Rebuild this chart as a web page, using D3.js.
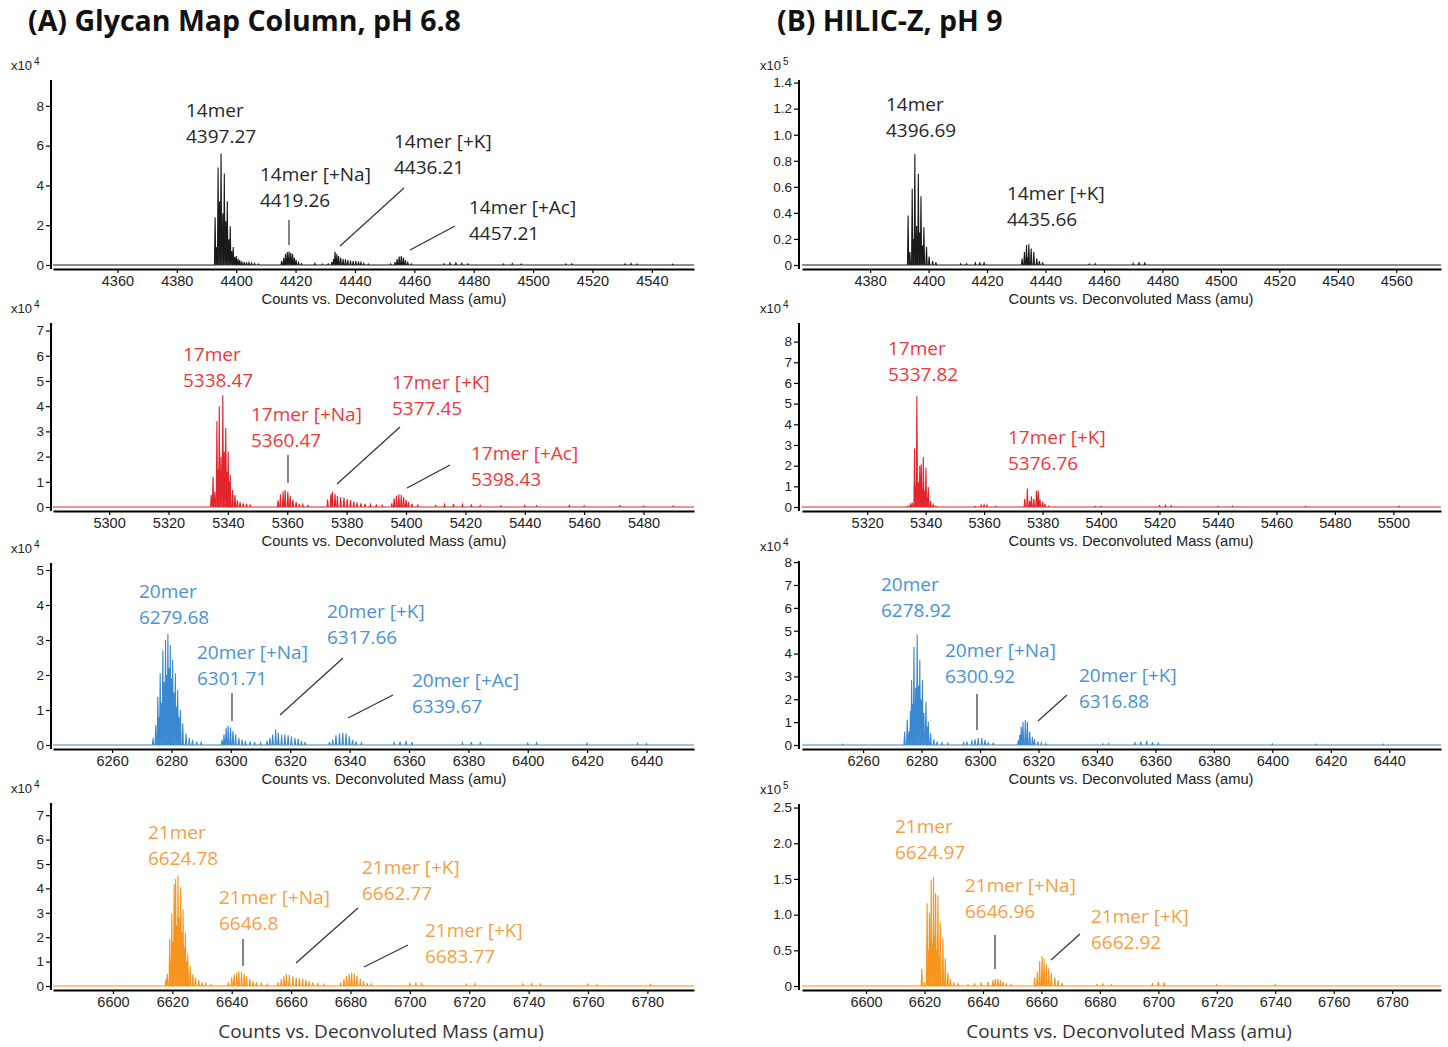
<!DOCTYPE html>
<html>
<head>
<meta charset="utf-8">
<script src="https://cdn.jsdelivr.net/npm/d3@7"></script>
<style>
  body { margin: 0; background: #fff; }
  svg { display: block; }
</style>
</head>
<body>
<svg id="chart" width="1448" height="1047"></svg>
<script>
// ---- data: sticks are [deconvoluted mass, counts in the panel's x10^n unit]
const a1Sticks = [[4392.9,2.4],[4393.4,0.9],[4393.9,4.9],[4394.4,3.2],[4394.9,5.6],[4395.5,2.6],[4396.0,4.6],[4396.5,2.2],[4397.0,3.2],[4397.5,1.3],[4398.0,1.95],[4398.5,0.7],[4399.0,0.9],[4399.5,0.4],[4400.0,0.45],[4400.6,0.32],[4401.2,0.25],[4401.9,0.18],[4402.7,0.15],[4403.5,0.13],[4404.3,0.12],[4405.2,0.1],[4406.2,0.08],[4407.5,0.05],
  [4415.3,0.2],[4416.0,0.35],[4416.6,0.55],[4417.2,0.65],[4417.8,0.68],[4418.4,0.6],[4419.0,0.55],[4419.6,0.36],[4420.2,0.25],[4421.0,0.12],[4422.0,0.07],
  [4426.5,0.08],[4429.0,0.05],[4431.0,0.06],
  [4432.2,0.15],[4432.8,0.3],[4433.3,0.67],[4433.9,0.55],[4434.5,0.45],[4435.2,0.36],[4436.0,0.3],[4436.8,0.28],[4437.6,0.25],[4438.5,0.22],[4439.4,0.2],[4440.3,0.2],[4441.2,0.17],[4442.0,0.12],[4443.0,0.08],[4444.5,0.05],
  [4452.0,0.06],[4453.5,0.15],[4454.2,0.3],[4454.9,0.42],[4455.6,0.45],[4456.3,0.38],[4457.0,0.25],[4457.8,0.12],[4459.0,0.06],
  [4470,0.06],[4472,0.1],[4474,0.1],[4476,0.08],[4478,0.06],[4490,0.05],[4493,0.07],[4496,0.05],[4511,0.05],[4513,0.06],[4531,0.06],[4533,0.07],[4535,0.05],[4547,0.04]];

const a2Sticks = [[5334.4,0.47],[5335.0,1.2],[5335.6,0.6],[5336.3,3.4],[5336.7,1.5],[5337.1,4.0],[5337.7,2.0],[5338.3,4.43],[5338.8,2.2],[5339.3,3.13],[5339.7,1.4],[5340.1,2.2],[5340.5,1.0],[5340.8,1.27],[5341.6,0.67],[5342.4,0.47],[5343.2,0.27],[5344.1,0.2],[5345.2,0.15],[5346.3,0.12],[5347.5,0.08],
  [5356.9,0.27],[5357.7,0.5],[5358.6,0.62],[5359.3,0.67],[5360.2,0.6],[5361.0,0.45],[5361.9,0.3],[5363.0,0.2],[5364.1,0.12],[5365.2,0.1],[5367,0.06],
  [5373.6,0.3],[5374.7,0.5],[5375.2,0.6],[5376.1,0.52],[5376.9,0.45],[5378.0,0.4],[5379.1,0.38],[5380.2,0.32],[5381.3,0.28],[5382.4,0.22],[5383.5,0.18],[5384.8,0.15],[5386.2,0.12],[5388,0.1],[5390,0.08],[5392,0.07],
  [5395.2,0.15],[5396.0,0.35],[5396.8,0.45],[5397.6,0.5],[5398.4,0.48],[5399.2,0.4],[5400.0,0.3],[5400.8,0.2],[5402,0.12],[5404,0.08],
  [5410,0.06],[5413,0.1],[5416,0.12],[5419,0.1],[5422,0.08],[5425,0.06],[5432,0.05],[5440,0.06],[5444,0.05],[5455,0.06],[5460,0.05],[5472,0.05],[5480,0.04],[5490,0.04]];

const a3Sticks = [[6273.8,0.19],[6274.7,0.57],[6275.4,1.38],[6275.8,0.8],[6276.2,2.05],[6276.6,1.2],[6277.1,2.71],[6277.5,1.8],[6278.0,3.0],[6278.4,2.0],[6278.8,3.17],[6279.2,2.2],[6279.6,2.86],[6280.0,1.9],[6280.4,2.43],[6280.8,1.5],[6281.3,2.05],[6281.7,1.1],[6282.1,1.57],[6282.5,0.8],[6283.0,1.0],[6283.8,0.62],[6284.9,0.33],[6286.0,0.2],[6287.1,0.15],[6288.5,0.1],[6290,0.07],
  [6297.0,0.15],[6297.7,0.3],[6298.4,0.5],[6299.1,0.55],[6299.9,0.5],[6300.7,0.4],[6301.6,0.3],[6302.7,0.2],[6303.8,0.15],[6304.9,0.12],[6306.5,0.1],[6308,0.08],[6310,0.06],
  [6312.2,0.12],[6313.2,0.2],[6314.1,0.3],[6315.1,0.45],[6316.0,0.35],[6317.1,0.3],[6318.2,0.3],[6319.3,0.28],[6320.4,0.25],[6321.6,0.2],[6322.7,0.18],[6323.8,0.12],[6325,0.08],
  [6333.2,0.08],[6334.3,0.15],[6335.4,0.28],[6336.6,0.33],[6337.7,0.35],[6338.8,0.33],[6339.9,0.25],[6341.0,0.15],[6342.2,0.1],[6344,0.06],
  [6355,0.07],[6357,0.1],[6359,0.12],[6361,0.08],[6378,0.06],[6381,0.08],[6384,0.06],[6400,0.05],[6403,0.06],[6420,0.05],[6437,0.05],[6440,0.04]];

const a4Sticks = [[6617.8,0.27],[6618.3,0.5],[6619.1,1.92],[6619.5,1.0],[6619.8,2.95],[6620.2,1.8],[6620.6,4.18],[6621.1,4.38],[6621.5,2.5],[6621.9,4.52],[6622.3,2.8],[6622.8,4.04],[6623.2,2.2],[6623.6,3.15],[6624.0,1.6],[6624.4,2.19],[6624.8,1.0],[6625.2,1.3],[6626.0,0.82],[6626.9,0.48],[6627.8,0.35],[6628.9,0.25],[6630,0.15],[6631.2,0.1],[6633,0.06],
  [6638.9,0.15],[6640.0,0.35],[6640.8,0.48],[6641.7,0.55],[6642.4,0.6],[6643.3,0.57],[6644.2,0.5],[6645.0,0.4],[6646.1,0.28],[6647.2,0.2],[6648.3,0.15],[6650,0.1],[6652,0.07],
  [6655.6,0.15],[6656.7,0.3],[6657.6,0.4],[6658.4,0.5],[6659.4,0.45],[6660.6,0.4],[6661.7,0.35],[6662.8,0.33],[6663.9,0.3],[6665.0,0.25],[6666.1,0.2],[6667.3,0.15],[6669,0.1],[6671,0.07],
  [6676.7,0.15],[6677.8,0.3],[6678.7,0.42],[6679.6,0.5],[6680.4,0.55],[6681.3,0.5],[6682.2,0.42],[6683.3,0.3],[6684.4,0.2],[6685.6,0.12],[6687,0.08],
  [6700,0.1],[6702,0.15],[6704,0.1],[6719,0.07],[6722,0.1],[6738,0.08],[6741,0.12],[6744,0.07],[6760,0.08],[6763,0.06],[6781,0.06]];

const b1Sticks = [[4393.0,0.38],[4393.6,0.1],[4394.4,0.585],[4394.8,0.2],[4395.3,0.85],[4395.9,0.3],[4396.5,0.70],[4396.9,0.25],[4397.4,0.527],[4397.9,0.15],[4398.4,0.29],[4399.3,0.14],[4400.2,0.064],[4401.4,0.03],[4402.5,0.02],
  [4411,0.01],[4413,0.01],[4416,0.015],[4417.5,0.02],[4419,0.015],
  [4432.0,0.05],[4432.8,0.1],[4433.5,0.153],[4433.9,0.06],[4434.3,0.16],[4435.1,0.127],[4436.0,0.1],[4437.0,0.05],[4437.9,0.03],[4439,0.02],
  [4455,0.008],[4457,0.01],[4470,0.012],[4472,0.02],[4474,0.015]];

const b2Sticks = [[5334.0,0.05],[5334.8,0.12],[5335.4,0.2],[5336.2,2.83],[5336.6,1.0],[5337.0,5.36],[5337.5,1.2],[5338.0,2.0],[5338.5,2.07],[5338.9,0.9],[5339.2,2.42],[5339.6,0.8],[5340.1,1.9],[5340.5,0.5],[5340.9,0.97],[5341.7,0.3],[5342.6,0.12],[5343.5,0.05],
  [5357,0.03],[5359,0.08],[5360,0.1],[5361,0.08],[5364,0.04],
  [5373.9,0.4],[5374.8,0.89],[5375.6,0.3],[5376.2,0.52],[5377.0,0.4],[5377.9,0.78],[5378.5,0.8],[5379.1,0.4],[5380.0,0.25],[5380.8,0.15],[5382,0.05],
  [5398,0.03],[5400,0.04],[5420,0.06],[5422,0.08],[5424,0.06],[5440,0.03],[5445,0.04],[5470,0.03],[5502,0.04]];

const b3Sticks = [[6253,0.04],[6274.2,0.58],[6275.1,1.12],[6275.7,0.6],[6276.2,1.5],[6276.6,2.84],[6277.0,1.8],[6277.4,4.29],[6278.0,2.5],[6278.5,4.84],[6279.0,2.6],[6279.4,3.71],[6279.9,2.0],[6280.3,2.84],[6280.8,1.4],[6281.5,1.89],[6281.9,0.8],[6282.3,1.02],[6283.1,0.51],[6284.2,0.25],[6285.3,0.15],[6287,0.1],[6289,0.08],
  [6294.4,0.1],[6295.5,0.15],[6297.2,0.2],[6298.3,0.25],[6299.4,0.3],[6300.6,0.3],[6301.7,0.22],[6302.8,0.12],[6304.5,0.08],
  [6313.1,0.2],[6313.6,0.44],[6314.1,0.8],[6314.7,1.02],[6315.5,1.09],[6316.2,1.02],[6317.0,0.58],[6317.9,0.36],[6318.6,0.25],[6319.8,0.15],[6321,0.1],[6322.5,0.06],
  [6342,0.05],[6344,0.06],[6353,0.1],[6355,0.15],[6357,0.18],[6359,0.12],[6361,0.08],[6400,0.05],[6415,0.04],[6438,0.04]];

const b4Sticks = [[6619.1,0.245],[6620.0,0.05],[6620.9,1.16],[6621.3,0.5],[6621.7,1.02],[6622.3,1.49],[6622.7,0.6],[6623.1,1.53],[6623.5,0.7],[6623.8,1.3],[6624.2,0.5],[6624.6,1.27],[6625.0,0.4],[6625.4,0.89],[6626.3,0.67],[6627.1,0.39],[6628.0,0.185],[6628.9,0.1],[6630,0.05],[6631.5,0.03],
  [6634.9,0.02],[6637.1,0.04],[6639.4,0.05],[6641.7,0.06],[6643.4,0.08],[6644.2,0.1],[6645.1,0.1],[6646.0,0.08],[6646.9,0.06],[6648.0,0.04],[6649.5,0.02],
  [6657.7,0.12],[6658.6,0.2],[6659.4,0.35],[6660.2,0.42],[6660.9,0.39],[6661.7,0.3],[6662.5,0.25],[6663.4,0.18],[6664.6,0.12],[6665.7,0.08],[6667,0.04],
  [6679,0.02],[6681,0.03],[6684,0.02],[6698,0.04],[6700,0.06],[6702,0.05],[6720,0.02],[6740,0.02]];

// axis ticks
const a1XTicks = [4360,4380,4400,4420,4440,4460,4480,4500,4520,4540];
const a2XTicks = [5300,5320,5340,5360,5380,5400,5420,5440,5460,5480];
const a3XTicks = [6260,6280,6300,6320,6340,6360,6380,6400,6420,6440];
const a4XTicks = [6600,6620,6640,6660,6680,6700,6720,6740,6760,6780];
const b1XTicks = [4380,4400,4420,4440,4460,4480,4500,4520,4540,4560];
const b2XTicks = [5320,5340,5360,5380,5400,5420,5440,5460,5480,5500];
const b3XTicks = [6260,6280,6300,6320,6340,6360,6380,6400,6420,6440];
const b4XTicks = [6600,6620,6640,6660,6680,6700,6720,6740,6760,6780];
const a1YTicks = [0,2,4,6,8];
const a2YTicks = [0,1,2,3,4,5,6,7];
const a3YTicks = [0,1,2,3,4,5];
const a4YTicks = [0,1,2,3,4,5,6,7];
const b1YTicks = [0,0.2,0.4,0.6,0.8,1.0,1.2,1.4];
const b2YTicks = [0,1,2,3,4,5,6,7,8];
const b3YTicks = [0,1,2,3,4,5,6,7,8];
const b4YTicks = [0,0.5,1.0,1.5,2.0,2.5];

// axis domains
const xDomains = [[4338.3,4554.2],[5281.1,5497.0],[6240.1,6456.0],[6579.8,6795.7],
                  [4356.7,4575.3],[5297.7,5516.3],[6239.1,6457.7],[6578.1,6796.7]];
const yMaxes = [9.3, 7.3, 5.2, 7.5, 1.42, 8.9, 8.05, 2.55];
const exponents = [4, 4, 4, 4, 5, 4, 4, 5];

// annotation texts
const a1Labels = [['14mer','4397.27'],['14mer [+Na]','4419.26'],['14mer [+K]','4436.21'],['14mer [+Ac]','4457.21']];
const a2Labels = [['17mer','5338.47'],['17mer [+Na]','5360.47'],['17mer [+K]','5377.45'],['17mer [+Ac]','5398.43']];
const a3Labels = [['20mer','6279.68'],['20mer [+Na]','6301.71'],['20mer [+K]','6317.66'],['20mer [+Ac]','6339.67']];
const a4Labels = [['21mer','6624.78'],['21mer [+Na]','6646.8'],['21mer [+K]','6662.77'],['21mer [+K]','6683.77']];
const b1Labels = [['14mer','4396.69'],['14mer [+K]','4435.66']];
const b2Labels = [['17mer','5337.82'],['17mer [+K]','5376.76']];
const b3Labels = [['20mer','6278.92'],['20mer [+Na]','6300.92'],['20mer [+K]','6316.88']];
const b4Labels = [['21mer','6624.97'],['21mer [+Na]','6646.96'],['21mer [+K]','6662.92']];

const titles = ['(A) Glycan Map Column, pH 6.8', '(B) HILIC-Z, pH 9'];
const axisTitle = 'Counts vs. Deconvoluted Mass (amu)';

// ---- layout / style
const cols = [{ axisX: 51, left: 53, right: 694, titleX: 28, expX: 11, axisTitleX: 384, bigTitleX: 381 },
              { axisX: 799, left: 802, right: 1441, titleX: 777, expX: 760, axisTitleX: 1131, bigTitleX: 1129 }];
const rows = [{ zero: 265, topA: 80, topB: 80 },
              { zero: 507, topA: 323, topB: 323 },
              { zero: 745, topA: 563, topB: 561 },
              { zero: 986, topA: 803, topB: 804 }];
const themes = [
  { stroke: '#1a1a1a', fill: '#8c8c8c', text: '#262626' },
  { stroke: '#e3242b', fill: '#f08c90', text: '#f0383c' },
  { stroke: '#3a88d0', fill: '#9fc7ec', text: '#4a92d6' },
  { stroke: '#f7941d', fill: '#fbc580', text: '#f6a043' }
];
// label anchors (x, first baseline) and leader lines, in page pixels
const labelPos = [
  [[186,117],[260,181],[394,148],[469,214]],
  [[183,361],[251,421],[392,389],[471,460]],
  [[139,598],[197,659],[327,618],[412,687]],
  [[148,839],[219,904],[362,874],[425,937]],
  [[886,111],[1007,200]],
  [[888,355],[1008,444]],
  [[881,591],[945,657],[1079,682]],
  [[895,833],[965,892],[1091,923]]
];
const leaders = [
  [[289,220,289,245],[404,188,340,246],[455,226,410,250]],
  [[288,455,288,483],[400,427,337,484],[450,465,407,488]],
  [[232,693,232,721],[343,658,280,715],[393,695,348,718]],
  [[243,939,243,966],[358,908,296,963],[408,945,364,967]],
  [], [],
  [[977,694,977,730],[1067,695,1038,721]],
  [[995,935,995,969],[1080,934,1051,960]]
];

const panels = [
  { sticks: a1Sticks, xTicks: a1XTicks, yTicks: a1YTicks, labels: a1Labels },
  { sticks: a2Sticks, xTicks: a2XTicks, yTicks: a2YTicks, labels: a2Labels },
  { sticks: a3Sticks, xTicks: a3XTicks, yTicks: a3YTicks, labels: a3Labels },
  { sticks: a4Sticks, xTicks: a4XTicks, yTicks: a4YTicks, labels: a4Labels },
  { sticks: b1Sticks, xTicks: b1XTicks, yTicks: b1YTicks, labels: b1Labels },
  { sticks: b2Sticks, xTicks: b2XTicks, yTicks: b2YTicks, labels: b2Labels },
  { sticks: b3Sticks, xTicks: b3XTicks, yTicks: b3YTicks, labels: b3Labels },
  { sticks: b4Sticks, xTicks: b4XTicks, yTicks: b4YTicks, labels: b4Labels }
];

const svg = d3.select('#chart');
const tickFont = 'Liberation Sans, Arial, sans-serif';
const labelFont = 'Open Sans, Noto Sans, sans-serif';

// column titles
titles.forEach(function(t, i) {
  svg.append('text')
     .attr('x', cols[i].titleX).attr('y', 31)
     .attr('font-family', labelFont).attr('font-weight', 700).attr('font-size', 28.5)
     .attr('fill', '#111').text(t);
});

panels.forEach(function(p, idx) {
  var col = cols[Math.floor(idx / 4)];
  var row = rows[idx % 4];
  var theme = themes[idx % 4];
  var top = idx < 4 ? row.topA : row.topB;
  var axisY = row.zero + 4;

  var x = d3.scaleLinear().domain(xDomains[idx]).range([col.left, col.right]);
  var y = d3.scaleLinear().domain([0, yMaxes[idx]]).range([row.zero, top]);

  var g = svg.append('g');

  // spectrum: each stick drawn as a narrow peak rising from the baseline
  var pts = [[xDomains[idx][0], 0]];
  p.sticks.slice().sort((a, b) => a[0] - b[0]).forEach(function(s) {
    pts.push([s[0] - 0.22, 0], [s[0], s[1]], [s[0] + 0.22, 0]);
  });
  pts.push([xDomains[idx][1], 0]);

  g.append('path')
   .attr('d', d3.area().x(d => x(d[0])).y0(y(0)).y1(d => y(d[1]))(pts))
   .attr('fill', theme.fill).attr('stroke', 'none');
  g.append('path')
   .attr('d', d3.line().x(d => x(d[0])).y(d => y(d[1]))(pts))
   .attr('fill', 'none').attr('stroke', theme.stroke).attr('stroke-width', 1.1)
   .attr('stroke-linejoin', 'miter');

  // x axis
  var xAxis = g.append('g').attr('transform', 'translate(0,' + axisY + ')')
               .call(d3.axisBottom(x).tickValues(p.xTicks).tickFormat(d3.format('d'))
                       .tickSize(4).tickPadding(3).tickSizeOuter(0));
  xAxis.select('.domain').attr('stroke', '#000').attr('stroke-width', 2);
  xAxis.selectAll('.tick line').attr('stroke', '#000').attr('stroke-width', 1.2);
  xAxis.selectAll('.tick text').attr('font-family', tickFont).attr('font-size', 14.5).attr('fill', '#222');

  // y axis
  var fmt = (yMaxes[idx] < 3) ? (d => d === 0 ? '0' : d3.format('.1f')(d)) : (d => d);
  var yAxis = g.append('g').attr('transform', 'translate(' + col.axisX + ',0)')
               .call(d3.axisLeft(y).tickValues(p.yTicks).tickFormat(fmt).tickSize(5).tickPadding(2).tickSizeOuter(0));
  yAxis.select('.domain').attr('stroke', '#000').attr('stroke-width', 2)
       .attr('d', 'M0,' + top + 'V' + axisY);
  yAxis.selectAll('.tick line').attr('stroke', '#000').attr('stroke-width', 1.2);
  yAxis.selectAll('.tick text').attr('font-family', tickFont).attr('font-size', 13.5).attr('fill', '#222');

  // exponent label
  var ex = g.append('text').attr('x', col.expX).attr('y', top - 10)
            .attr('font-family', tickFont).attr('font-size', 13).attr('fill', '#222');
  ex.append('tspan').text('x10');
  ex.append('tspan').attr('dx', 2).attr('dy', -5).attr('font-size', 10).text(exponents[idx]);

  // axis title
  if (idx % 4 === 3) {
    g.append('text').attr('x', col.bigTitleX).attr('y', row.zero + 52)
     .attr('text-anchor', 'middle').attr('font-family', labelFont).attr('font-size', 19)
     .attr('fill', '#333').text(axisTitle);
  } else {
    g.append('text').attr('x', col.axisTitleX).attr('y', row.zero + 39)
     .attr('text-anchor', 'middle').attr('font-family', tickFont).attr('font-size', 14.7)
     .attr('fill', '#222').text(axisTitle);
  }

  // leader lines
  leaders[idx].forEach(function(l) {
    g.append('line').attr('x1', l[0]).attr('y1', l[1]).attr('x2', l[2]).attr('y2', l[3])
     .attr('stroke', '#333').attr('stroke-width', 1.2);
  });

  // peak labels
  p.labels.forEach(function(lines, j) {
    var pos = labelPos[idx][j];
    var t = g.append('text').attr('font-family', labelFont).attr('font-size', 19).attr('fill', theme.text);
    lines.forEach(function(line, k) {
      t.append('tspan').attr('x', pos[0]).attr('y', pos[1] + k * 25.5).text(line);
    });
  });
});
</script>
</body>
</html>
